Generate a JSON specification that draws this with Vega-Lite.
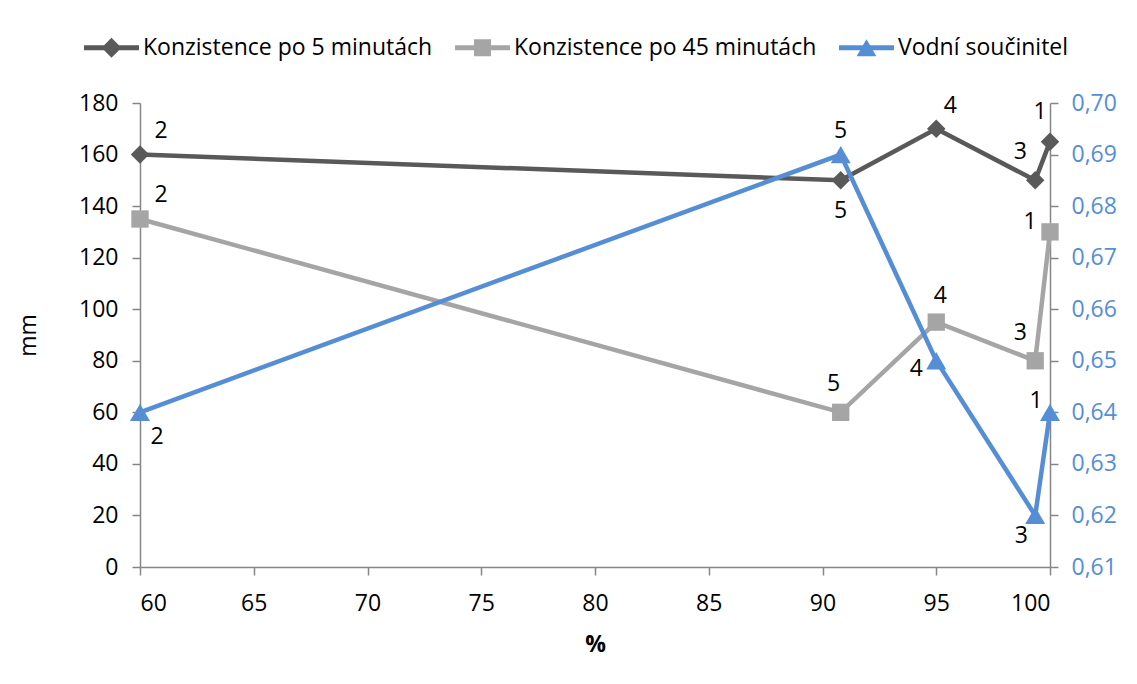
{
  "$schema": "https://vega.github.io/schema/vega-lite/v6.json",
  "autosize": {"type": "none"},
  "width": 910,
  "height": 464,
  "padding": {"left": 140, "top": 103, "right": 87, "bottom": 117},
  "background": "white",
  "config": {
    "font": "Open Sans",
    "view": {"stroke": null},
    "axis": {
      "grid": false,
      "domainColor": "#868686",
      "domainWidth": 1.5,
      "tickColor": "#868686",
      "tickWidth": 1.5,
      "tickSize": 8,
      "labelFont": "Open Sans",
      "labelFontSize": 23,
      "labelColor": "#000000",
      "titleFont": "Open Sans",
      "titleFontSize": 23,
      "titleColor": "#000000"
    }
  },
  "data": {
    "values": [
      {"series": "Konzistence po 5 minutách", "id": "A2", "x": 60, "v": 160, "n": "2"},
      {"series": "Konzistence po 5 minutách", "id": "A5", "x": 90.8, "v": 150, "n": "5"},
      {"series": "Konzistence po 5 minutách", "id": "A4", "x": 95, "v": 170, "n": "4"},
      {"series": "Konzistence po 5 minutách", "id": "A3", "x": 99.35, "v": 150, "n": "3"},
      {"series": "Konzistence po 5 minutách", "id": "A1", "x": 100, "v": 165, "n": "1"},
      {"series": "Konzistence po 45 minutách", "id": "B2", "x": 60, "v": 135, "n": "2"},
      {"series": "Konzistence po 45 minutách", "id": "B5", "x": 90.8, "v": 60, "n": "5"},
      {"series": "Konzistence po 45 minutách", "id": "B4", "x": 95, "v": 95, "n": "4"},
      {"series": "Konzistence po 45 minutách", "id": "B3", "x": 99.35, "v": 80, "n": "3"},
      {"series": "Konzistence po 45 minutách", "id": "B1", "x": 100, "v": 130, "n": "1"},
      {"series": "Vodní součinitel", "id": "C2", "x": 60, "v": 0.64, "n": "2"},
      {"series": "Vodní součinitel", "id": "C5", "x": 90.8, "v": 0.69, "n": "5"},
      {"series": "Vodní součinitel", "id": "C4", "x": 95, "v": 0.65, "n": "4"},
      {"series": "Vodní součinitel", "id": "C3", "x": 99.35, "v": 0.62, "n": "3"},
      {"series": "Vodní součinitel", "id": "C1", "x": 100, "v": 0.64, "n": "1"}
    ]
  },
  "encoding": {
    "x": {
      "field": "x", "type": "quantitative",
      "scale": {"domain": [60, 100], "nice": false, "zero": false},
      "axis": {"values": [60, 65, 70, 75, 80, 85, 90, 95, 100], "title": "%", "titleFontWeight": "bold", "labelPadding": 17, "titlePadding": 18}
    }
  },
  "layer": [
    {
      "transform": [{"filter": "datum.series !== 'Vodní součinitel'"}],
      "encoding": {
        "y": {
          "field": "v", "type": "quantitative",
          "scale": {"domain": [0, 180], "nice": false},
          "axis": {"values": [0, 20, 40, 60, 80, 100, 120, 140, 160, 180], "title": "mm", "titleFontWeight": "normal", "labelPadding": 14, "titlePadding": 38}
        }
      },
      "layer": [
        {
          "mark": {"type": "line", "strokeWidth": 4.5},
          "encoding": {
            "color": {
              "field": "series", "type": "nominal",
              "scale": {"domain": ["Konzistence po 5 minutách", "Konzistence po 45 minutách", "Vodní součinitel"], "range": ["#595959", "#A5A5A5", "#558ED5"]},
              "legend": {
                "orient": "none", "legendX": -56, "legendY": -83, "direction": "horizontal", "title": null,
                "labelFontSize": 23, "labelFont": "Open Sans", "labelColor": "#000000", "labelLimit": 0,
                "symbolSize": 3025, "labelOffset": 4, "columnPadding": 22,
                "encode": {
                  "symbols": {
                    "update": {
                      "shape": {"signal": "datum.value === 'Konzistence po 5 minutách' ? 'M-1,-0.09H-0.27L0,-0.36L0.27,-0.09H1V0.09H0.27L0,0.36L-0.27,0.09H-1Z' : datum.value === 'Konzistence po 45 minutách' ? 'M-1,-0.09H-0.31V-0.31H0.31V-0.09H1V0.09H0.31V0.31H-0.31V0.09H-1Z' : 'M-1,-0.09H-0.13L0,-0.31L0.13,-0.09H1V0.09H0.23L0.36,0.31H-0.36L-0.23,0.09H-1Z'"},
                      "fill": {"scale": "color", "field": "value"},
                      "stroke": {"value": "transparent"},
                      "strokeWidth": {"value": 0},
                      "opacity": {"value": 1}
                    }
                  }
                }
              }
            }
          }
        },
        {
          "transform": [{"filter": "datum.series === 'Konzistence po 5 minutách'"}],
          "mark": {"type": "point", "shape": "diamond", "filled": true, "size": 340, "opacity": 1, "color": "#595959"},
          "encoding": {}
        },
        {
          "transform": [{"filter": "datum.series === 'Konzistence po 45 minutách'"}],
          "mark": {"type": "point", "shape": "square", "filled": true, "size": 300, "opacity": 1, "color": "#A5A5A5"},
          "encoding": {}
        },
        {"transform": [{"filter": "indexof(['A2','B2'], datum.id) >= 0"}], "mark": {"type": "text", "fontSize": 23, "color": "#000000", "dx": 21, "dy": -24}, "encoding": {"text": {"field": "n"}}},
        {"transform": [{"filter": "datum.id === 'A4'"}], "mark": {"type": "text", "fontSize": 23, "color": "#000000", "dx": 14, "dy": -23}, "encoding": {"text": {"field": "n"}}},
        {"transform": [{"filter": "datum.id === 'A5'"}], "mark": {"type": "text", "fontSize": 23, "color": "#000000", "dx": 0, "dy": 31}, "encoding": {"text": {"field": "n"}}},
        {"transform": [{"filter": "indexof(['A3','B3'], datum.id) >= 0"}], "mark": {"type": "text", "fontSize": 23, "color": "#000000", "dx": -15, "dy": -28}, "encoding": {"text": {"field": "n"}}},
        {"transform": [{"filter": "datum.id === 'A1'"}], "mark": {"type": "text", "fontSize": 23, "color": "#000000", "dx": -10, "dy": -30}, "encoding": {"text": {"field": "n"}}},
        {"transform": [{"filter": "datum.id === 'B5'"}], "mark": {"type": "text", "fontSize": 23, "color": "#000000", "dx": -7, "dy": -28}, "encoding": {"text": {"field": "n"}}},
        {"transform": [{"filter": "datum.id === 'B4'"}], "mark": {"type": "text", "fontSize": 23, "color": "#000000", "dx": 4, "dy": -26}, "encoding": {"text": {"field": "n"}}},
        {"transform": [{"filter": "datum.id === 'B1'"}], "mark": {"type": "text", "fontSize": 23, "color": "#000000", "dx": -20, "dy": -10}, "encoding": {"text": {"field": "n"}}}
      ]
    },
    {
      "transform": [{"filter": "datum.series === 'Vodní součinitel'"}],
      "encoding": {
        "y": {
          "field": "v", "type": "quantitative",
          "scale": {"domain": [0.61, 0.70], "nice": false, "zero": false},
          "axis": {
            "orient": "right", "title": null,
            "values": [0.61, 0.62, 0.63, 0.64, 0.65, 0.66, 0.67, 0.68, 0.69, 0.70],
            "labelExpr": "replace(format(datum.value, '.2f'), '.', ',')",
            "labelColor": "#558ED5", "labelPadding": 13
          }
        }
      },
      "layer": [
        {"mark": {"type": "line", "strokeWidth": 4.5, "color": "#558ED5"}, "encoding": {}},
        {"mark": {"type": "point", "shape": "triangle-up", "filled": true, "size": 400, "opacity": 1, "color": "#558ED5"}, "encoding": {}},
        {"transform": [{"filter": "datum.id === 'C2'"}], "mark": {"type": "text", "fontSize": 23, "color": "#000000", "dx": 17, "dy": 25}, "encoding": {"text": {"field": "n"}}},
        {"transform": [{"filter": "datum.id === 'C5'"}], "mark": {"type": "text", "fontSize": 23, "color": "#000000", "dx": 0, "dy": -24}, "encoding": {"text": {"field": "n"}}},
        {"transform": [{"filter": "datum.id === 'C4'"}], "mark": {"type": "text", "fontSize": 23, "color": "#000000", "dx": -20, "dy": 8}, "encoding": {"text": {"field": "n"}}},
        {"transform": [{"filter": "datum.id === 'C3'"}], "mark": {"type": "text", "fontSize": 23, "color": "#000000", "dx": -14, "dy": 21}, "encoding": {"text": {"field": "n"}}},
        {"transform": [{"filter": "datum.id === 'C1'"}], "mark": {"type": "text", "fontSize": 23, "color": "#000000", "dx": -14, "dy": -11}, "encoding": {"text": {"field": "n"}}}
      ]
    }
  ],
  "resolve": {"scale": {"y": "independent"}}
}
